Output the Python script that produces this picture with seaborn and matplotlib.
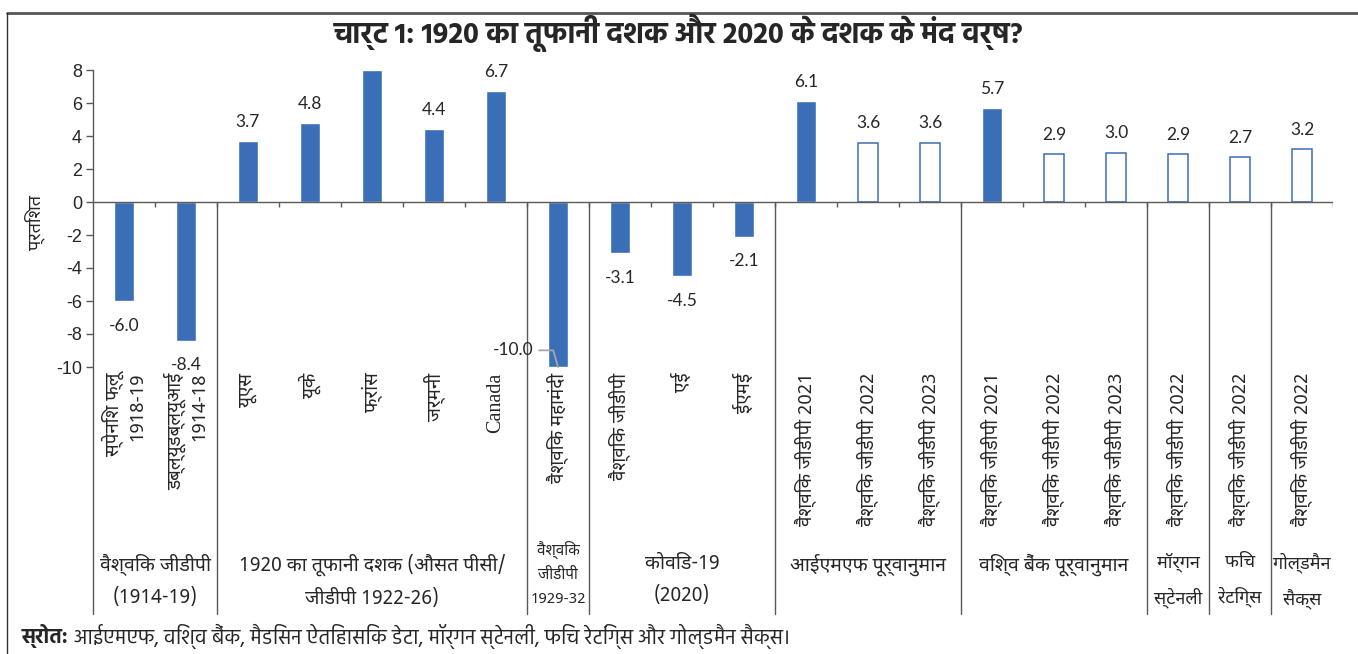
import numpy as np
import pandas as pd
import matplotlib
matplotlib.use("Agg")
import matplotlib.pyplot as plt
from matplotlib.lines import Line2D
import seaborn as sns

categories = ['स्पेनिश फ्लू\n1918-19', 'डब्ल्यूडब्ल्यूआई\n1914-18', 'यूएस', 'यूके', 'फ्रांस', 'जर्मनी',
              'Canada', 'वैश्विक महामंदी', 'वैश्विक जीडीपी', 'एई', 'ईएमई',
              'वैश्विक जीडीपी 2021', 'वैश्विक जीडीपी 2022', 'वैश्विक जीडीपी 2023',
              'वैश्विक जीडीपी 2021', 'वैश्विक जीडीपी 2022', 'वैश्विक जीडीपी 2023',
              'वैश्विक जीडीपी 2022', 'वैश्विक जीडीपी 2022', 'वैश्विक जीडीपी 2022']
values = [-6.0, -8.4, 3.7, 4.8, 8.0, 4.4, 6.7, -10.0, -3.1, -4.5, -2.1,
          6.1, 3.6, 3.6, 5.7, 2.9, 3.0, 2.9, 2.7, 3.2]
value_labels = ['-6.0', '-8.4', '3.7', '4.8', '', '4.4', '6.7', '-10.0', '-3.1', '-4.5', '-2.1',
                '6.1', '3.6', '3.6', '5.7', '2.9', '3.0', '2.9', '2.7', '3.2']
hollow = [False] * 12 + [True, True, False, True, True, True, True, True]

group_labels = ['वैश्विक जीडीपी\n(1914-19)', '1920 का तूफानी दशक (औसत पीसी/\nजीडीपी 1922-26)',
                'वैश्विक\nजीडीपी\n1929-32', 'कोविड-19\n(2020)', 'आईएमएफ पूर्वानुमान',
                'विश्व बैंक पूर्वानुमान', 'मॉर्गन\nस्टेनली', 'फिच\nरेटिंग्स', 'गोल्डमैन\nसैक्स']
group_sizes = [2, 5, 1, 3, 3, 3, 1, 1, 1]

title = 'चार्ट 1: 1920 का तूफानी दशक और 2020 के दशक के मंद वर्ष?'
ylabel = 'प्रतिशत'
source_bold = 'स्रोत:'
source_text = ' आईएमएफ, विश्व बैंक, मैडिसन ऐतिहासिक डेटा, मॉर्गन स्टेनली, फिच रेटिंग्स और गोल्डमैन सैक्स।'

blue = '#3A6FB7'
grey = '#595959'
ink = '#262626'
bold_family = ['Hind', 'Mukta', 'Biryani', 'DejaVu Sans']
num_family = ['Lato', 'DejaVu Sans']

sns.set_theme(style='white')
plt.rcParams['font.family'] = ['Noto Sans Devanagari', 'Hind', 'Mukta', 'DejaVu Sans']
plt.rcParams['text.color'] = ink
plt.rcParams['axes.unicode_minus'] = False

df = pd.DataFrame({'pos': [str(i) for i in range(len(values))], 'value': values})

fig = plt.figure(figsize=(13.58, 6.54), dpi=100)
ax = fig.add_axes([93 / 1358, 1 - 367 / 654, 1240 / 1358, 297 / 654])

sns.barplot(data=df, x='pos', y='value', color=blue, saturation=1, width=0.33, ax=ax)
for patch, h in zip(ax.patches, hollow):
    if h:
        patch.set_facecolor('white')
        patch.set_edgecolor(blue)
        patch.set_linewidth(1.1)

ymin, ymax = -10, 8
ax.set_xlim(-0.5, len(values) - 0.5)
ax.set_ylim(ymin, ymax)
ax.set_yticks(range(ymin, ymax + 1, 2))
ax.set_xlabel('')
ax.set_ylabel('')
for s in ax.spines.values():
    s.set_visible(False)

ax.tick_params(axis='y', left=True, length=5, width=1, color=grey, labelsize=13, pad=3,
               labelcolor=ink)
for t in ax.get_yticklabels():
    t.set_fontfamily(['Liberation Sans', 'DejaVu Sans'])

ax.set_xticks(range(len(categories)))
ax.set_xticklabels(categories, rotation=90, ha='center', va='top', multialignment='right',
                   fontsize=13.5, linespacing=1.3, color=ink)
ax.tick_params(axis='x', length=0, pad=4)
ax.get_xticklabels()[6].set_fontfamily(['Liberation Serif', 'DejaVu Serif'])
ax.get_xticklabels()[6].set_fontsize(14.5)

# zero line, boundary ticks, y axis line and group separators
ax.axhline(0, color=grey, lw=1, zorder=1)
ax.vlines(np.arange(0.5, len(values)), 0, -0.3, color=grey, lw=1)
xt = ax.get_xaxis_transform()
y0 = (0 - ymin) / (ymax - ymin)
ybot = -0.83
ax.plot([-0.5, -0.5], [1, ybot], transform=xt, color=grey, lw=1, clip_on=False)
edges = np.cumsum(group_sizes)
for e in edges[:-1]:
    ax.plot([e - 0.5, e - 0.5], [y0, ybot], transform=xt, color=grey, lw=1, clip_on=False)

starts = edges - np.array(group_sizes)
for lab, st, sz in zip(group_labels, starts, group_sizes):
    if lab.count('\n') > 1:
        ypos, fs, ls = -0.585, 11, 1.8
    elif sz == 1:
        ypos, fs, ls = -0.625, 13, 1.95
    else:
        ypos, fs, ls = -0.628, 14, 1.85
    ax.text(st + sz / 2 - 0.5, ypos, lab, transform=xt,
            ha='center', va='top', fontsize=fs, linespacing=ls)

# value labels
for i, (v, lab) in enumerate(zip(values, value_labels)):
    if not lab:
        continue
    if v <= ymin:
        ax.annotate(lab, xy=(i, v), xytext=(-18, 12), textcoords='offset points',
                    ha='right', va='center', fontsize=12.5, family=num_family,
                    arrowprops=dict(arrowstyle='-', color='#a6a6a6', lw=1.3, shrinkA=2, shrinkB=0,
                                    connectionstyle='angle,angleA=0,angleB=106,rad=0'))
    elif v > 0:
        ax.annotate(lab, xy=(i, v), xytext=(0, 8), textcoords='offset points',
                    ha='center', va='bottom', fontsize=12.5, family=num_family)
    else:
        ax.annotate(lab, xy=(i, v), xytext=(0, -12), textcoords='offset points',
                    ha='center', va='top', fontsize=12.5, family=num_family)

fig.text(0.5, 1 - 33 / 654, title, ha='center', va='center', fontsize=21, fontweight='bold',
         family=bold_family)
fig.text(35 / 1358, 1 - 222 / 654, ylabel, rotation=90, ha='center', va='center', fontsize=13)

src = fig.text(22 / 1358, 1 - 636 / 654, source_bold, ha='left', va='center', fontsize=14.8,
               fontweight='bold', family=bold_family)
ax.annotate(source_text, xy=(1, 0.5), xycoords=src, ha='left', va='center', fontsize=14.8,
            family=bold_family, annotation_clip=False)

# frame
fig.add_artist(Line2D([7 / 1358, 1], [1 - 13 / 654, 1 - 13 / 654], transform=fig.transFigure,
                      color='#555555', lw=2))
fig.add_artist(Line2D([7 / 1358, 7 / 1358], [1 - 13 / 654, 0], transform=fig.transFigure,
                      color='#333333', lw=1))

fig.savefig('out.png', dpi=100)
